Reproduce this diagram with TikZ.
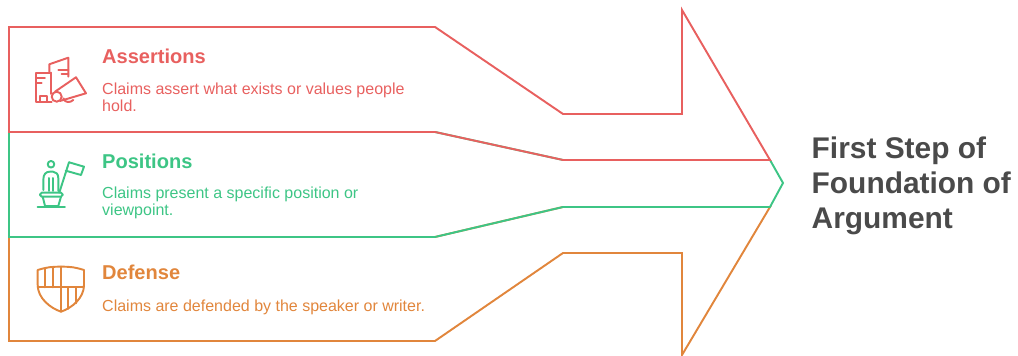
\documentclass[tikz,border=0pt]{standalone}
\usepackage{fontspec}
\setmainfont{Liberation Sans}
\usepackage{xcolor}
\usetikzlibrary{positioning}

\definecolor{assertcol}{HTML}{E8605F}
\definecolor{poscol}{HTML}{3DC585}
\definecolor{defcol}{HTML}{E1863C}
\definecolor{titlecol}{HTML}{4A4A4A}

\tikzset{
  band/.style={line width=0.55pt,line join=miter},
  icon/.style={line width=0.55pt,line join=round,line cap=round},
  headtext/.style={inner sep=0pt,font=\fontsize{5.7pt}{6.5pt}\selectfont\bfseries},
  bodytext/.style={inner sep=0pt,align=left,font=\fontsize{4.55pt}{4.85pt}\selectfont},
  titletext/.style={inner sep=0pt,align=left,text=titlecol,font=\fontsize{8.5pt}{9.95pt}\selectfont\bfseries}
}

\begin{document}
\begin{tikzpicture}[x=0.01cm,y=-0.01cm]
  \useasboundingbox (0,0) rectangle (1018,356);

  % arrow bands
  \draw[band,defcol] (9,237) -- (435,237) -- (563,207) -- (770,207) -- (682,355) -- (682,253) -- (563,253) -- (435,341) -- (9,341) -- cycle;
  \draw[band,poscol] (9,132) -- (435,132) -- (563,160) -- (770,160) -- (783,183) -- (770,207) -- (563,207) -- (435,237) -- (9,237) -- cycle;
  \draw[band,assertcol] (9,27) -- (435,27) -- (563,114) -- (682,114) -- (682,10) -- (770,160) -- (563,160) -- (435,132) -- (9,132) -- cycle;

  % texts
  \node (asserthead) [headtext,text=assertcol,anchor=west] at (101.5,56) {Assertions};
  \node (assertbody) [bodytext,text=assertcol,below=11.7pt of asserthead.west,anchor=west] {Claims assert what exists or values people\\hold.};
  \node (poshead) [headtext,text=poscol,anchor=west] at (101.5,161) {Positions};
  \node (posbody) [bodytext,text=poscol,below=11.8pt of poshead.west,anchor=west] {Claims present a specific position or\\viewpoint.};
  \node (defhead) [headtext,text=defcol,anchor=west] at (101.5,272) {Defense};
  \node (defbody) [bodytext,text=defcol,below=10.1pt of defhead.west,anchor=west] {Claims are defended by the speaker or writer.};
  \node (title) [titletext,anchor=west] at (811,186) {First Step of\\Foundation of\\Argument};

  % megaphone and buildings
  \begin{scope}[icon,assertcol]
    \draw (50.7,72.7) -- (36,72.7) -- (36,101.7) -- (51.7,101.7);
    \draw (50.7,72.7) -- (50.7,94);
    \draw (49.3,72.7) -- (49.3,64.3) -- (68.3,57.7) -- (68.3,76.7);
    \draw (36,78.3) -- (45,78.3) (36,82.7) -- (41.7,82.7);
    \draw (58.3,70) -- (68.3,70) (61.7,74.3) -- (68.3,74.3);
    \draw (40,101.7) -- (40,96) -- (47.3,96) -- (47.3,101.7);
    \draw (56.7,96.7) ellipse (5 and 5);
    \draw (55,91.7) -- (76,77.3) -- (86,93.3) -- (60,101);
    \draw (63.3,98.3) .. controls (65,103) and (70,103) .. (73.3,100);
  \end{scope}

  % person with flag
  \begin{scope}[icon,poscol]
    \draw (51,164.3) circle (3.3);
    \draw (43.3,190) -- (43.3,180) .. controls (43.3,174) and (46,171.7) .. (50,171.7) -- (53,171.7) .. controls (56,171.7) and (58.3,174) .. (58.3,178) -- (58.3,191);
    \draw (49.3,191) -- (49.3,178) (53.3,191) -- (53.3,178);
    \draw[rounded corners=0.5pt] (40,192.7) -- (62.7,192.7) -- (62.7,196.7) -- (40,196.7) -- cycle;
    \draw (42.7,196.7) -- (45,206) -- (58.3,206) -- (61,196.7);
    \draw (37.7,206.7) -- (65,206.7);
    \draw (59.3,192.7) -- (69,162.3);
    \draw (69,162.3) -- (84,166.7) -- (81,175) -- (65.7,170.7);
  \end{scope}

  % shield
  \begin{scope}[icon,defcol]
    \draw (37.7,270) .. controls (48,267) and (52,266.7) .. (61,266.7) .. controls (70,266.7) and (74,267) .. (84,270) -- (84,285) .. controls (84,298) and (72,308) .. (61,311.7) .. controls (50,308) and (37.7,298) .. (37.7,285) -- cycle;
    \draw (61,266.7) -- (61,311.7);
    \draw (37.7,287.3) -- (84,287.3);
    \draw (45,268.3) -- (45,287.3) (52.7,267.3) -- (52.7,287.3);
    \draw (68.3,287.3) -- (68.3,309) (76,287.3) -- (76,303.3);
  \end{scope}

\end{tikzpicture}
\end{document}
